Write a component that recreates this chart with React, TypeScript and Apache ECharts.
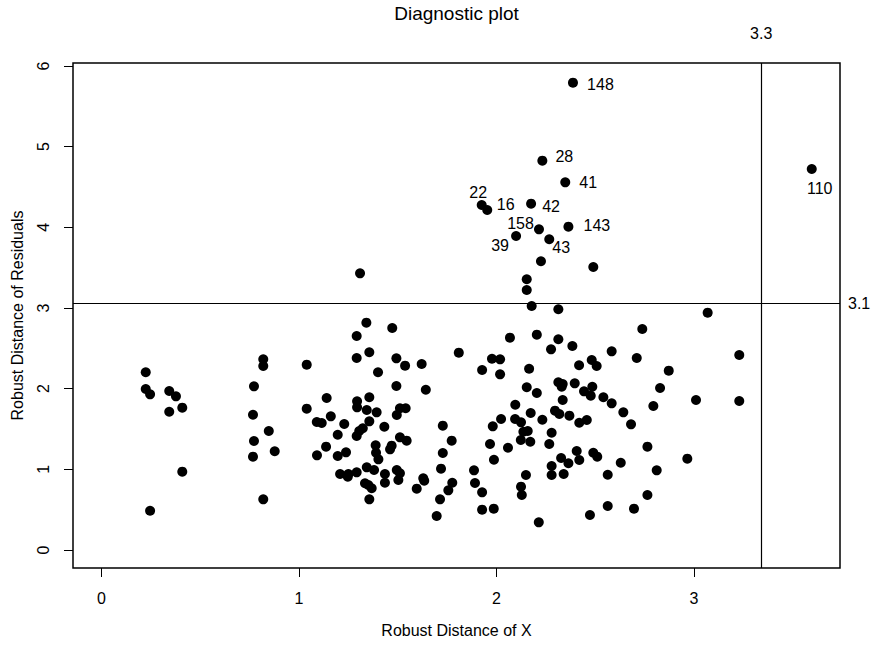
import React, { useEffect, useRef } from "react";
import * as echarts from "echarts";

const FONT = "'Liberation Sans', Arial, Helvetica, sans-serif";

// Robust distances (non-labelled observations)
const robustX = [
  0.224, 0.224, 0.246, 0.343, 0.377, 0.343, 0.409, 0.409, 0.246, 0.819,
  0.819, 0.772, 0.767, 0.847, 0.772, 0.767, 0.877, 0.819, 1.039, 1.039,
  1.14, 1.09, 1.115, 1.161, 1.229, 1.196, 1.137, 1.091, 1.196, 1.238,
  1.292, 1.341, 1.292, 1.356, 1.294, 1.294, 1.343, 1.356, 1.356, 1.292,
  1.305, 1.323, 1.343, 1.208, 1.25, 1.292, 1.247, 1.334, 1.351, 1.356,
  1.4, 1.472, 1.493, 1.537, 1.621, 1.809, 1.493, 1.642, 1.393, 1.432,
  1.495, 1.511, 1.54, 1.511, 1.545, 1.388, 1.39, 1.402, 1.469, 1.461,
  1.728, 1.773, 1.728, 1.719, 1.38, 1.368, 1.435, 1.435, 1.495, 1.511,
  1.503, 1.629, 1.634, 1.596, 1.697, 1.714, 1.756, 1.776, 1.886, 1.891,
  1.927, 1.927, 1.986, 1.927, 1.977, 2.018, 2.018, 2.068, 2.204, 2.165,
  2.153, 2.204, 2.276, 2.313, 2.178, 2.095, 2.173, 2.094, 2.124, 2.232,
  2.296, 2.023, 1.981, 1.967, 2.058, 1.987, 2.136, 2.158, 2.123, 2.171,
  2.279, 2.267, 2.279, 2.279, 2.149, 2.124, 2.128, 2.214, 2.313, 3.069,
  2.738, 2.384, 2.583, 2.71, 2.482, 2.507, 2.418, 2.872, 3.229, 2.313,
  2.335, 2.33, 2.396, 2.485, 2.443, 2.477, 2.541, 2.583, 2.335, 2.828,
  2.794, 3.01, 3.229, 2.642, 2.681, 2.318, 2.369, 2.419, 2.457, 2.406,
  2.327, 2.364, 2.419, 2.49, 2.51, 2.34, 2.563, 2.629, 2.764, 2.811,
  2.966, 2.764, 2.696, 2.563, 2.473, 1.309, 2.225, 2.49, 2.153, 2.153,
];
const robustRes = [
  2.203, 1.996, 1.93, 1.971, 1.905, 1.714, 1.764, 0.971, 0.487, 2.364,
  2.281, 2.029, 1.677, 1.475, 1.351, 1.157, 1.224, 0.628, 2.297, 1.752,
  1.884, 1.587, 1.574, 1.657, 1.562, 1.429, 1.281, 1.174, 1.165, 1.211,
  2.653, 2.818, 2.38, 2.451, 1.843, 1.769, 1.735, 1.893, 1.595, 1.413,
  1.475, 1.509, 1.025, 0.942, 0.942, 0.963, 0.909, 0.827, 0.806, 0.628,
  2.203, 2.752, 2.376, 2.285, 2.306, 2.446, 2.033, 1.987, 1.707, 1.528,
  1.673, 1.757, 1.757, 1.397, 1.355, 1.298, 1.206, 1.124, 1.293, 1.248,
  1.541, 1.355, 1.202, 1.008, 0.992, 0.765, 0.942, 0.834, 0.992, 0.951,
  0.868, 0.889, 0.859, 0.76, 0.421, 0.628, 0.74, 0.834, 0.988, 0.831,
  0.715, 0.5, 0.512, 2.231, 2.371, 2.364, 2.178, 2.632, 2.669, 2.247,
  2.017, 1.946, 2.488, 2.612, 3.025, 1.801, 1.698, 1.624, 1.583, 1.615,
  1.727, 1.624, 1.533, 1.314, 1.268, 1.119, 1.466, 1.475, 1.364, 1.342,
  1.454, 1.314, 1.041, 0.93, 0.93, 0.785, 0.682, 0.343, 2.984, 2.942,
  2.74, 2.529, 2.463, 2.38, 2.355, 2.281, 2.29, 2.223, 2.417, 2.079,
  2.058, 2.024, 2.066, 2.024, 1.967, 1.913, 1.893, 1.818, 1.859, 2.008,
  1.785, 1.859, 1.847, 1.707, 1.558, 1.686, 1.665, 1.578, 1.611, 1.227,
  1.14, 1.075, 1.116, 1.206, 1.157, 0.942, 0.933, 1.082, 1.281, 0.988,
  1.132, 0.682, 0.512, 0.545, 0.434, 3.43, 3.579, 3.508, 3.356, 3.223,
];

// Labelled outliers
const outlierIds = ["148", "28", "41", "22", "16", "42", "143", "158", "39", "43", "110"];
const outlierX = [2.387, 2.232, 2.348, 1.925, 1.953, 2.175, 2.364, 2.215, 2.099, 2.267, 3.596];
const outlierY = [5.793, 4.826, 4.558, 4.277, 4.215, 4.293, 4.008, 3.975, 3.892, 3.852, 4.723];
// label placement (pixels, label centre relative to the point)
const outlierLabelOffsets = [
  [27.5, 2], [22, -4.5], [23, 0], [-3.5, -12], [18.5, -5], [20, 3],
  [28.5, -1.5], [-18.5, -6], [-16, 9], [12, 8.5], [8, 20],
];

// cut-off lines
const cutoffX = 3.339;
const cutoffY = 3.06;

const xTicks = [0, 1, 2, 3];
const yTicks = [0, 1, 2, 3, 4, 5, 6];
const xRange = [-0.1443, 3.739];
const yRange = [-0.2231, 6.037];

export default function App() {
  const ref = useRef<HTMLDivElement>(null);

  useEffect(() => {
    if (!ref.current) return;
    const chart = echarts.init(ref.current, undefined, { renderer: "svg" });
    const main = robustX.map((x, i) => [x, robustRes[i]]);
    const labelled = outlierX.map((x, i) => ({ name: outlierIds[i], value: [x, outlierY[i]] }));
    const txt = { fontFamily: FONT, fontSize: 16, color: "#000" };

    const titleGraphic = {
      type: "text",
      x: 456.5,
      y: 13,
      style: {
        text: "Diagnostic plot",
        fontFamily: FONT,
        fontSize: 19,
        fill: "#000",
        align: "center",
        verticalAlign: "middle",
      },
    };

    chart.setOption({
      animation: false,
      backgroundColor: "#ffffff",
      textStyle: { fontFamily: FONT },
      graphic: [titleGraphic],
      grid: {
        left: 73,
        top: 63,
        width: 767,
        height: 505,
        show: true,
        borderColor: "#000",
        borderWidth: 1.5,
        backgroundColor: "transparent",
      },
      xAxis: {
        type: "value",
        min: xRange[0],
        max: xRange[1],
        name: "Robust Distance of X",
        nameLocation: "middle",
        nameGap: 54,
        nameTextStyle: txt,
        axisLine: { show: false, onZero: false },
        splitLine: { show: false },
        axisTick: {
          show: true,
          inside: false,
          length: 9,
          lineStyle: { color: "#000", width: 1 },
          customValues: xTicks,
        },
        axisLabel: { ...txt, margin: 22, customValues: xTicks },
      },
      yAxis: {
        type: "value",
        min: yRange[0],
        max: yRange[1],
        name: "Robust Distance of Residuals",
        nameLocation: "middle",
        nameGap: 48,
        nameRotate: 90,
        nameTextStyle: txt,
        axisLine: { show: false, onZero: false },
        splitLine: { show: false },
        axisTick: {
          show: true,
          inside: false,
          length: 9,
          lineStyle: { color: "#000", width: 1 },
          customValues: yTicks,
        },
        axisLabel: { ...txt, margin: 22, rotate: 90, customValues: yTicks },
      },
      series: [
        {
          type: "scatter",
          data: main,
          symbol: "circle",
          symbolSize: 10,
          itemStyle: { color: "#000", opacity: 1 },
          silent: true,
          markLine: {
            silent: true,
            symbol: "none",
            animation: false,
            lineStyle: { color: "#000", width: 1.2, type: "solid", opacity: 1 },
            label: { ...txt, position: "end", formatter: (p: any) => Number(p.value).toFixed(1) },
            data: [
              { xAxis: cutoffX, label: { distance: 22 } },
              { yAxis: cutoffY, label: { distance: 8 } },
            ],
          },
        },
        {
          type: "scatter",
          data: labelled,
          symbol: "circle",
          symbolSize: 10,
          itemStyle: { color: "#000", opacity: 1 },
          silent: true,
        },
      ],
    });

    // outlier labels placed through the chart's own scales
    const labelGraphics = labelled.map((d, i) => {
      const p = chart.convertToPixel({ gridIndex: 0 }, d.value) as number[];
      return {
        type: "text",
        x: p[0] + outlierLabelOffsets[i][0],
        y: p[1] + outlierLabelOffsets[i][1],
        silent: true,
        style: {
          text: d.name,
          fontFamily: FONT,
          fontSize: 16,
          fill: "#000",
          align: "center",
          verticalAlign: "middle",
        },
      };
    });
    chart.setOption({ graphic: [titleGraphic, ...labelGraphics] });

    return () => chart.dispose();
  }, []);

  return (
    <div
      ref={ref}
      style={{ position: "absolute", left: 0, top: 0, width: 875, height: 647, background: "#fff" }}
    />
  );
}
